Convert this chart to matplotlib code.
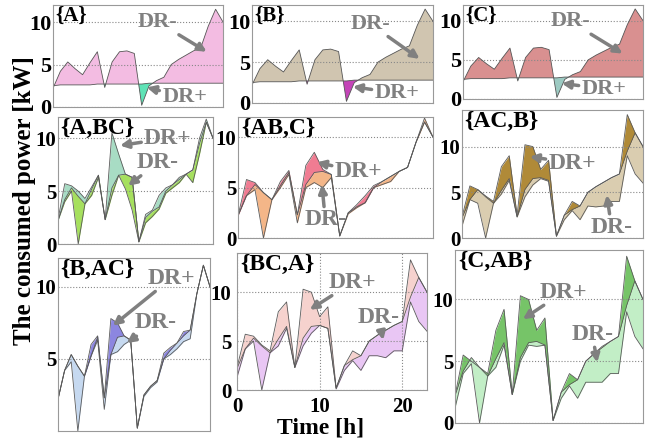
import numpy as np
import matplotlib
matplotlib.use('Agg')
import matplotlib.pyplot as plt

plt.rcParams['font.family'] = 'Liberation Serif'
plt.rcParams['font.weight'] = 'bold'

hours = np.arange(24)

# original consumption profile (kW), shared by every panel
base = np.array([2.2, 4.2, 5.3, 4.5, 3.8, 5.2, 6.5, 2.3, 5.3, 6.5, 6.6, 6.3,
                 0.2, 2.5, 3.1, 3.5, 5.0, 5.6, 6.1, 6.6, 7.0, 9.5, 11.5, 10.0])
# flattened profile of the single-player coalitions
flat = np.array([2.5, 2.6, 2.6, 2.6, 2.6, 2.6, 2.7, 2.7, 2.7, 2.7, 2.7, 2.7,
                 2.7, 2.8, 2.8, 2.8, 2.8, 2.8, 2.8, 2.8, 2.8, 2.8, 2.8, 2.8])

# two-group coalitions: DR+ curve and DR- curve
a_bc_up = [2.3, 5.7, 5.5, 5.0, 4.3, 5.4, 6.5, 2.3, 10.5, 8.5, 6.6, 6.3,
           0.2, 2.8, 3.2, 4.6, 5.3, 5.6, 6.3, 6.6, 7.0, 10.0, 11.8, 10.0]
a_bc_dn = [2.2, 4.0, 5.0, 0.0, 3.8, 4.6, 6.3, 2.3, 4.6, 6.5, 5.2, 3.2,
           0.2, 2.0, 2.6, 3.3, 4.8, 5.3, 5.8, 6.6, 5.8, 8.5, 11.5, 10.0]
ab_c_up = [2.2, 5.8, 5.5, 4.5, 3.8, 5.6, 6.7, 2.3, 7.2, 8.5, 6.8, 6.3,
           0.2, 2.5, 3.3, 4.2, 5.2, 5.6, 6.1, 6.6, 7.0, 9.5, 11.5, 10.0]
ab_c_dn = [2.2, 4.2, 4.8, 0.0, 3.8, 5.0, 6.3, 1.5, 5.0, 5.5, 5.0, 6.0,
           0.2, 2.4, 3.0, 3.5, 5.0, 5.3, 5.6, 6.6, 7.0, 9.5, 11.9, 10.0]
ac_b_up = [2.3, 5.7, 5.3, 4.6, 4.0, 7.8, 9.0, 2.5, 10.2, 10.0, 7.5, 8.5,
           0.2, 2.5, 4.0, 3.5, 5.0, 5.6, 6.1, 6.6, 7.0, 13.5, 11.5, 10.0]
ac_b_dn = [1.3, 4.2, 3.8, 0.0, 3.8, 4.8, 6.3, 2.3, 4.5, 5.8, 6.5, 6.2,
           0.2, 2.0, 3.0, 2.0, 3.5, 3.4, 3.5, 4.0, 4.0, 9.0, 7.0, 6.0]
b_ac_up = [2.2, 4.2, 5.3, 4.5, 3.8, 6.0, 6.6, 2.3, 7.8, 7.5, 6.6, 6.3,
           0.2, 2.5, 3.1, 3.5, 5.4, 5.8, 6.1, 6.9, 7.0, 9.5, 11.5, 10.0]
b_ac_dn = [2.2, 4.2, 4.8, 0.0, 3.8, 5.2, 6.3, 1.5, 5.3, 5.5, 6.0, 6.3,
           0.2, 2.4, 3.0, 3.4, 5.0, 5.3, 5.7, 6.2, 6.4, 9.5, 11.5, 10.0]
bc_a_up = [2.3, 5.7, 5.5, 4.6, 4.0, 8.0, 9.0, 2.3, 10.3, 10.0, 7.5, 8.5,
           0.2, 2.5, 4.0, 3.5, 5.0, 5.6, 6.1, 6.6, 7.0, 13.3, 11.5, 10.0]
bc_a_dn = [1.3, 4.2, 5.0, 0.0, 3.8, 4.5, 6.3, 2.3, 4.5, 5.8, 6.6, 6.3,
           0.1, 2.0, 3.0, 2.0, 3.5, 3.5, 3.3, 4.0, 4.0, 9.0, 7.0, 6.0]
c_ab_up = [2.2, 5.5, 5.0, 4.5, 4.0, 7.5, 9.2, 2.3, 10.3, 10.0, 7.5, 8.5,
           0.2, 2.5, 4.0, 3.5, 5.0, 5.6, 6.2, 6.6, 7.0, 13.5, 11.5, 10.0]
c_ab_dn = [1.2, 4.0, 4.8, 0.0, 3.8, 4.5, 6.3, 2.3, 5.0, 6.3, 6.2, 6.3,
           0.2, 2.0, 3.0, 2.0, 3.3, 3.3, 3.3, 4.0, 4.0, 9.0, 7.0, 6.0]

W, H = 665, 441
GRAY = '#808080'


def rect(l, t, r, b):
    return [l / W, 1 - b / H, (r - l) / W, (b - t) / H]


# name, box (px), ymax, curves, (DR+ colour, DR- colour), annotations
panels = [
    ('{A}', (53, 5, 223, 107), 12, None, ('#5ee3b6', '#f3bce2'),
     [('DR-', (14.2, 10.0), (20.8, 6.5)), ('DR+', (17.8, 1.2), (12.7, 2.3))]),
    ('{B}', (252, 5, 433, 103), 12, None, ('#c444b8', '#d0c5b0'),
     [('DR-', (15.0, 9.7), (21.3, 5.4)), ('DR+', (18.4, 1.2), (12.8, 2.0))]),
    ('{C}', (463, 5, 643, 99), 12, None, ('#9ccac2', '#d99090'),
     [('DR-', (13.7, 9.9), (20.4, 5.8)), ('DR+', (18.0, 1.3), (12.6, 2.0))]),
    ('{A,BC}', (58, 117, 213, 244), 12, (a_bc_up, a_bc_dn), ('#a8dcc4', '#a6e05e'),
     [('DR+', (16.3, 10.0), (9.2, 9.3)), ('DR-', (14.8, 7.7), (10.4, 5.5))]),
    ('{AB,C}', (238, 117, 433, 238), 12, (ab_c_up, ab_c_dn), ('#f07c92', '#f4b688'),
     [('DR+', (14.2, 6.6), (9.3, 7.5)), ('DR-', (10.3, 1.8), (9.9, 5.3))]),
    ('{AC,B}', (462, 110, 643, 238), 14, (ac_b_up, ac_b_dn), ('#b08a38', '#dacdb0'),
     [('DR+', (14.0, 8.2), (8.6, 8.9)), ('DR-', (19.0, 1.2), (18.4, 4.7))]),
    ('{B,AC}', (58, 258, 210, 431), 12, (b_ac_up, b_ac_dn), ('#8c86e0', '#c6d9f0'),
     [('DR+', (17.2, 10.6), (8.3, 7.3)), ('DR-', (14.7, 7.5), (10.4, 6.1))]),
    ('{BC,A}', (237, 253, 427, 390), 14, (bc_a_up, bc_a_dn), ('#f6d2ce', '#e9c6f4'),
     [('DR+', (14.0, 11.0), (8.8, 8.2)), ('DR-', (17.1, 7.4), (17.7, 5.1))]),
    ('{C,AB}', (455, 250, 643, 423), 14, (c_ab_up, c_ab_dn), ('#76c468', '#c2eec6'),
     [('DR+', (13.3, 10.6), (8.3, 8.4)), ('DR-', (16.8, 7.2), (17.4, 4.9))]),
]

fig = plt.figure(figsize=(6.65, 4.41), dpi=100)

for i, (name, box, ymax, curves, (c_plus, c_minus), notes) in enumerate(panels):
    ax = fig.add_axes(rect(*box))
    top_row = i < 3
    if curves is None:
        ax.fill_between(hours, base, flat, where=base >= flat, interpolate=True,
                        color=c_minus, lw=0)
        ax.fill_between(hours, base, flat, where=base <= flat, interpolate=True,
                        color=c_plus, lw=0)
        ax.plot(hours, base, color='#555555', lw=0.6)
        ax.plot(hours, flat, color='#555555', lw=0.6)
    else:
        up, dn = curves
        ax.fill_between(hours, base, up, color=c_plus, lw=0)
        ax.fill_between(hours, base, dn, color=c_minus, lw=0)
        for y in (base, up, dn):
            ax.plot(hours, y, color='#5a5a5a', lw=0.6)

    ax.set_xlim(0, 23)
    ax.set_ylim(0, ymax)
    ax.set_yticks([5, 10] if name == '{B,AC}' else [0, 5, 10])
    ax.yaxis.grid(True, linestyle=':', color='#888888', lw=0.8)
    ax.tick_params(axis='y', length=0, pad=1, labelsize=16 if top_row else 15)
    ax.tick_params(axis='x', length=0, labelsize=15)
    if name == '{BC,A}':
        ax.set_xticks([0, 10, 20])
        ax.xaxis.grid(True, linestyle=':', color='#888888', lw=0.8)
        ax.tick_params(axis='x', pad=5)
        ax.tick_params(axis='y', pad=4)
    else:
        ax.set_xticks([])
    for s in ax.spines.values():
        s.set_color('#999999')
        s.set_linewidth(0.8)

    ax.text(0.015, 0.995, name, transform=ax.transAxes, ha='left', va='top',
            fontsize=15 if top_row else 17, color='black')
    for txt, pos, head in notes:
        ax.annotate(txt, xy=head, xytext=pos, ha='center', va='center',
                    color=GRAY, fontsize=16 if top_row else 17,
                    arrowprops=dict(arrowstyle='-|>', color=GRAY, lw=2.5,
                                    mutation_scale=12, shrinkA=0, shrinkB=0))

fig.text(25 / W, 1 - 201 / H, 'The consumed power [kW]', rotation=90,
         ha='center', va='center', fontsize=18)
fig.text(321 / W, 1 - 428 / H, 'Time [h]', ha='center', va='center', fontsize=17)

fig.savefig('out.png', dpi=100)
